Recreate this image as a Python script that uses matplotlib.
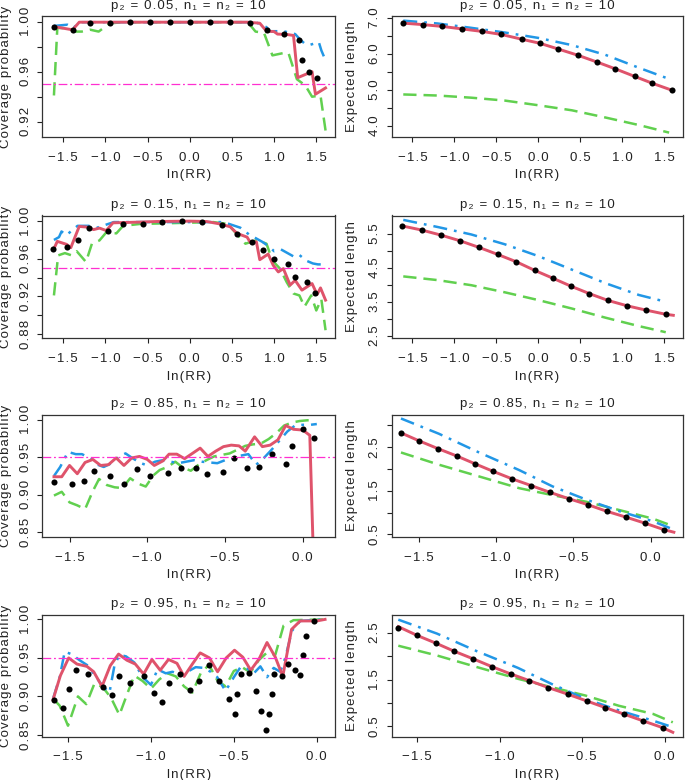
import matplotlib
matplotlib.use("Agg")
import matplotlib.pyplot as plt

plt.rcParams['font.family'] = ['Liberation Sans', 'DejaVu Sans']

RED = '#DF536B'
BLUE = '#2297E6'
GREEN = '#61D04F'
MAGENTA = '#FF2FD0'

# ---- p2 = 0.05 ----
cov_red_x1 = [-1.61, -1.39, -1.31, 0.68, 0.83, 0.91, 1.00, 1.04, 1.15, 1.23, 1.28, 1.45, 1.49, 1.61]
cov_red_y1 = [0.996, 0.9934, 0.9995, 0.9995, 0.9987, 0.9923, 0.992, 0.990, 0.9897, 0.9889, 0.9552, 0.960, 0.942, 0.947]
cov_blue_x1 = [-1.61, -1.45, -1.38, -1.30, 0.78, 0.91, 0.95, 1.11, 1.19, 1.25, 1.31, 1.37, 1.43, 1.53, 1.56, 1.61]
cov_blue_y1 = [0.9965, 0.9975, 0.995, 0.9995, 0.9995, 0.9955, 0.9923, 0.9923, 0.991, 0.990, 0.9855, 0.982, 0.9815, 0.9836, 0.977, 0.969]
cov_green_x1 = [-1.61, -1.57, -1.42, -1.36, -1.28, -1.18, -1.08, -0.95, -0.80, 0.62, 0.70, 0.78, 0.88, 0.98, 1.12, 1.17, 1.27, 1.37, 1.45, 1.55, 1.61]
cov_green_y1 = [0.941, 0.995, 0.9945, 0.992, 0.992, 0.9935, 0.992, 0.9985, 0.9995, 0.9995, 0.9985, 0.992, 0.991, 0.973, 0.975, 0.975, 0.954, 0.949, 0.940, 0.941, 0.913]
cov_pts_x1 = [-1.61, -1.38, -1.18, -0.945, -0.71, -0.47, -0.23, 0.0, 0.24, 0.48, 0.71, 0.91, 1.12, 1.30, 1.33, 1.41, 1.51]
cov_pts_y1 = [0.9955, 0.9934, 0.999, 0.9987, 0.9995, 0.9995, 0.9995, 0.9995, 0.9995, 0.9995, 0.9987, 0.9934, 0.9897, 0.985, 0.969, 0.960, 0.955]

len_pts_x1 = [-1.61, -1.38, -1.15, -0.91, -0.67, -0.44, -0.20, 0.02, 0.24, 0.47, 0.70, 0.92, 1.15, 1.36, 1.59]
len_pts_y1 = [6.86, 6.82, 6.77, 6.70, 6.63, 6.545, 6.415, 6.30, 6.14, 5.97, 5.78, 5.59, 5.38, 5.19, 5.00]
len_x1 = [-1.61, -1.2, -0.8, -0.4, 0.0, 0.4, 0.8, 1.2, 1.56]
len_blue_y1 = [6.93, 6.85, 6.73, 6.60, 6.45, 6.25, 5.98, 5.62, 5.31]
len_green_y1 = [4.88, 4.85, 4.79, 4.71, 4.58, 4.44, 4.24, 4.03, 3.82]

# ---- p2 = 0.15 ----
cov_red_x2 = [-1.61, -1.57, -1.46, -1.41, -1.31, -1.21, -1.14, -1.07, -0.99, -0.91, -0.59, -0.39, 0.0, 0.2, 0.36, 0.48, 0.56, 0.68, 0.72, 0.79, 0.83, 0.93, 0.99, 1.05, 1.11, 1.19, 1.25, 1.33, 1.45, 1.51, 1.55, 1.61]
cov_red_y2 = [0.9707, 0.9785, 0.9753, 0.9718, 0.9944, 0.9936, 0.991, 0.9926, 0.990, 0.9982, 0.999, 0.9996, 1.0, 0.9996, 0.997, 0.994, 0.987, 0.983, 0.977, 0.978, 0.959, 0.965, 0.953, 0.946, 0.9495, 0.932, 0.937, 0.9266, 0.9336, 0.922, 0.929, 0.916]
cov_blue_x2 = [-1.61, -1.55, -1.52, -1.46, -1.40, -1.33, -1.2, -1.1, -1.0, -0.9, 0.4, 0.5, 0.6, 0.7, 0.78, 0.86, 0.94, 1.0, 1.08, 1.16, 1.24, 1.3, 1.38, 1.46, 1.52, 1.61]
cov_blue_y2 = [0.980, 0.983, 0.989, 0.985, 0.990, 0.995, 0.995, 0.993, 0.996, 0.999, 0.999, 0.996, 0.993, 0.986, 0.982, 0.978, 0.973, 0.968, 0.970, 0.966, 0.962, 0.964, 0.958, 0.955, 0.954, 0.954]
cov_green_x2 = [-1.61, -1.56, -1.48, -1.40, -1.34, -1.23, -1.16, -1.07, -0.99, -0.87, -0.79, -0.59, 0.28, 0.45, 0.66, 0.8, 0.91, 0.98, 1.07, 1.15, 1.23, 1.30, 1.36, 1.44, 1.50, 1.56, 1.61]
cov_green_y2 = [0.921, 0.9636, 0.966, 0.9636, 0.968, 0.9566, 0.976, 0.9795, 0.988, 0.987, 0.995, 0.997, 0.999, 0.997, 0.976, 0.980, 0.976, 0.958, 0.9495, 0.935, 0.923, 0.921, 0.909, 0.921, 0.905, 0.917, 0.884]
cov_pts_x2 = [-1.62, -1.45, -1.33, -1.19, -0.97, -0.79, -0.56, -0.325, -0.09, 0.14, 0.38, 0.56, 0.74, 0.87, 1.0, 1.16, 1.25, 1.39, 1.49]
cov_pts_y2 = [0.9707, 0.973, 0.980, 0.9926, 0.990, 0.997, 0.997, 0.999, 1.0, 0.9996, 0.996, 0.9866, 0.9778, 0.9696, 0.960, 0.954, 0.9407, 0.9354, 0.9238]

len_pts_x2 = [-1.62, -1.39, -1.16, -0.93, -0.71, -0.485, -0.26, -0.045, 0.17, 0.39, 0.61, 0.83, 1.06, 1.29, 1.52]
len_pts_y2 = [5.74, 5.62, 5.47, 5.30, 5.11, 4.90, 4.68, 4.43, 4.20, 3.96, 3.74, 3.54, 3.38, 3.25, 3.13]
len_red_x2 = [-1.62, -1.39, -1.16, -0.93, -0.71, -0.485, -0.26, -0.045, 0.17, 0.39, 0.61, 0.83, 1.06, 1.29, 1.52, 1.61]
len_red_y2 = [5.74, 5.62, 5.47, 5.30, 5.11, 4.90, 4.68, 4.43, 4.20, 3.96, 3.74, 3.54, 3.38, 3.25, 3.13, 3.10]
len_x2 = [-1.61, -1.2, -0.8, -0.4, 0.0, 0.4, 0.8, 1.2, 1.52]
len_blue_y2 = [5.92, 5.71, 5.49, 5.20, 4.85, 4.45, 4.05, 3.70, 3.50]
len_green_y2 = [4.25, 4.14, 3.99, 3.78, 3.55, 3.30, 3.03, 2.78, 2.60]

# ---- p2 = 0.85 ----
cov_red_x3 = [-1.60, -1.55, -1.50, -1.45, -1.40, -1.35, -1.30, -1.25, -1.20, -1.15, -1.10, -1.05, -1.00, -0.955, -0.90, -0.86, -0.81, -0.76, -0.71, -0.66, -0.61, -0.56, -0.51, -0.46, -0.41, -0.37, -0.31, -0.26, -0.21, -0.16, -0.11, -0.06, 0.0, 0.045, 0.085]
cov_red_y3 = [0.924, 0.924, 0.939, 0.928, 0.943, 0.947, 0.939, 0.940, 0.949, 0.939, 0.949, 0.951, 0.947, 0.939, 0.945, 0.954, 0.954, 0.948, 0.955, 0.962, 0.951, 0.958, 0.964, 0.966, 0.965, 0.958, 0.977, 0.964, 0.966, 0.973, 0.992, 0.987, 0.986, 0.979, 0.70]
cov_blue_x3 = [-1.60, -1.56, -1.51, -1.46, -1.42, -1.37, -1.32, -1.28, -1.23, -1.18, -1.14, -1.09, -1.04, -1.00, -0.95, -0.90, -0.85, -0.80, -0.75, -0.70, -0.65, -0.60, -0.55, -0.50, -0.45, -0.40, -0.35, -0.30, -0.25, -0.20, -0.15, -0.10, -0.05, 0.0, 0.05, 0.09]
cov_blue_y3 = [0.925, 0.937, 0.957, 0.954, 0.954, 0.949, 0.940, 0.937, 0.942, 0.951, 0.955, 0.948, 0.942, 0.939, 0.944, 0.946, 0.944, 0.942, 0.944, 0.946, 0.944, 0.943, 0.942, 0.946, 0.948, 0.952, 0.954, 0.940, 0.949, 0.960, 0.972, 0.984, 0.992, 0.993, 0.993, 0.994]
cov_green_x3 = [-1.60, -1.55, -1.50, -1.45, -1.40, -1.35, -1.31, -1.26, -1.21, -1.16, -1.11, -1.06, -1.01, -0.96, -0.92, -0.87, -0.82, -0.77, -0.72, -0.67, -0.62, -0.57, -0.52, -0.47, -0.42, -0.37, -0.32, -0.27, -0.22, -0.17, -0.12, -0.07, -0.02, 0.03, 0.08]
cov_green_y3 = [0.899, 0.904, 0.890, 0.886, 0.881, 0.905, 0.921, 0.913, 0.910, 0.909, 0.922, 0.915, 0.911, 0.926, 0.933, 0.937, 0.944, 0.936, 0.932, 0.940, 0.946, 0.951, 0.953, 0.955, 0.960, 0.965, 0.967, 0.968, 0.974, 0.982, 0.992, 0.996, 0.998, 0.999, 0.999]
cov_pts_x3 = [-1.60, -1.485, -1.41, -1.344, -1.237, -1.147, -1.066, -0.983, -0.865, -0.784, -0.688, -0.613, -0.513, -0.442, -0.361, -0.282, -0.197, -0.111, -0.068, 0.0, 0.07]
cov_pts_y3 = [0.917, 0.915, 0.9186, 0.932, 0.925, 0.914, 0.9337, 0.925, 0.929, 0.935, 0.936, 0.927, 0.9306, 0.949, 0.936, 0.937, 0.954, 0.941, 0.965, 0.9875, 0.976]

len_pts_x3 = [-1.615, -1.5, -1.377, -1.255, -1.136, -1.017, -0.896, -0.773, -0.652, -0.53, -0.405, -0.284, -0.158, -0.035, 0.086]
len_pts_y3 = [2.83, 2.65, 2.47, 2.30, 2.12, 1.944, 1.774, 1.62, 1.465, 1.32, 1.18, 1.03, 0.894, 0.755, 0.608]
len_red_x3 = [-1.615, -1.5, -1.377, -1.255, -1.136, -1.017, -0.896, -0.773, -0.652, -0.53, -0.405, -0.284, -0.158, -0.035, 0.086, 0.15]
len_red_y3 = [2.83, 2.65, 2.47, 2.30, 2.12, 1.944, 1.774, 1.62, 1.465, 1.32, 1.18, 1.03, 0.894, 0.755, 0.608, 0.55]
len_x3 = [-1.615, -1.37, -1.11, -0.85, -0.634, -0.418, -0.2, 0.015, 0.145]
len_blue_y3 = [3.16, 2.81, 2.38, 1.975, 1.60, 1.30, 1.03, 0.80, 0.616]
len_green_y3 = [2.38, 2.10, 1.83, 1.56, 1.40, 1.25, 1.056, 0.86, 0.69]

# ---- p2 = 0.95 ----
cov_red_x4 = [-1.59, -1.546, -1.496, -1.446, -1.386, -1.345, -1.295, -1.245, -1.195, -1.145, -1.094, -1.044, -0.994, -0.944, -0.894, -0.843, -0.80, -0.747, -0.703, -0.647, -0.598, -0.546, -0.496, -0.446, -0.398, -0.347, -0.30, -0.25, -0.205, -0.152, -0.10, 0.0, 0.05]
cov_red_y4 = [0.896, 0.927, 0.950, 0.942, 0.939, 0.932, 0.913, 0.940, 0.955, 0.947, 0.942, 0.929, 0.948, 0.934, 0.948, 0.943, 0.926, 0.943, 0.9565, 0.950, 0.932, 0.950, 0.960, 0.951, 0.934, 0.949, 0.970, 0.951, 0.926, 0.987, 0.998, 0.998, 1.0]
cov_blue_x4 = [-1.59, -1.55, -1.52, -1.48, -1.43, -1.38, -1.33, -1.29, -1.25, -1.22, -1.19, -1.15, -1.10, -1.05, -1.00, -0.96, -0.91, -0.87, -0.82, -0.78, -0.73, -0.68, -0.64, -0.60, -0.55, -0.50, -0.46, -0.42, -0.38, -0.34, -0.30, -0.26, -0.22, -0.19, -0.15, -0.10, 0.05]
cov_blue_y4 = [0.897, 0.925, 0.958, 0.955, 0.947, 0.940, 0.925, 0.913, 0.905, 0.940, 0.954, 0.952, 0.944, 0.925, 0.915, 0.935, 0.930, 0.932, 0.928, 0.932, 0.938, 0.937, 0.932, 0.925, 0.907, 0.925, 0.938, 0.936, 0.930, 0.939, 0.925, 0.937, 0.932, 0.950, 0.985, 0.998, 1.0]
cov_green_x4 = [-1.59, -1.55, -1.50, -1.44, -1.39, -1.34, -1.29, -1.24, -1.19, -1.14, -1.10, -1.05, -1.00, -0.95, -0.90, -0.85, -0.80, -0.75, -0.70, -0.65, -0.60, -0.55, -0.50, -0.45, -0.40, -0.35, -0.30, -0.25, -0.20, -0.14, 0.05]
cov_green_y4 = [0.897, 0.888, 0.862, 0.900, 0.890, 0.917, 0.912, 0.898, 0.876, 0.905, 0.927, 0.920, 0.910, 0.922, 0.930, 0.926, 0.913, 0.905, 0.930, 0.941, 0.921, 0.913, 0.933, 0.938, 0.931, 0.947, 0.957, 0.954, 0.992, 0.999, 1.0]
cov_pts_x4 = [-1.586, -1.53, -1.496, -1.45, -1.38, -1.29, -1.233, -1.19, -1.124, -1.044, -0.984, -0.934, -0.894, -0.823, -0.763, -0.713, -0.649, -0.592, -0.532, -0.496, -0.478, -0.458, -0.406, -0.365, -0.335, -0.307, -0.285, -0.271, -0.257, -0.211, -0.171, -0.13, -0.10, -0.084, -0.064, -0.016]
cov_pts_y4 = [0.8957, 0.8848, 0.910, 0.934, 0.9287, 0.912, 0.902, 0.9265, 0.918, 0.9265, 0.9043, 0.8926, 0.9174, 0.9296, 0.9078, 0.9196, 0.9413, 0.9196, 0.897, 0.877, 0.9035, 0.9287, 0.931, 0.9065, 0.8817, 0.8565, 0.877, 0.9026, 0.9287, 0.927, 0.9417, 0.934, 0.9274, 0.9535, 0.9787, 0.998]

len_pts_x4 = [-1.615, -1.5, -1.387, -1.275, -1.162, -1.047, -0.934, -0.82, -0.705, -0.588, -0.473, -0.359, -0.244, -0.13, -0.012]
len_pts_y4 = [2.615, 2.45, 2.285, 2.11, 1.95, 1.78, 1.625, 1.48, 1.33, 1.19, 1.045, 0.90, 0.758, 0.615, 0.47]
len_red_x4 = [-1.615, -1.5, -1.387, -1.275, -1.162, -1.047, -0.934, -0.82, -0.705, -0.588, -0.473, -0.359, -0.244, -0.13, -0.012, 0.05]
len_red_y4 = [2.64, 2.45, 2.285, 2.11, 1.95, 1.78, 1.625, 1.48, 1.33, 1.19, 1.045, 0.90, 0.758, 0.615, 0.47, 0.37]
len_x4 = [-1.615, -1.38, -1.137, -0.89, -0.686, -0.48, -0.277, -0.07, 0.05]
len_blue_y4 = [2.79, 2.49, 2.11, 1.755, 1.41, 1.09, 0.84, 0.62, 0.48]
len_green_y4 = [2.23, 2.02, 1.77, 1.52, 1.34, 1.16, 0.94, 0.765, 0.585]

p2_values = ['0.05', '0.15', '0.85', '0.95']
xticks_wide = [-1.5, -1.0, -0.5, 0.0, 0.5, 1.0, 1.5]
xticks_short = [-1.5, -1.0, -0.5, 0.0]
cov_yticks = [[0.92, 0.94, 0.96, 0.98, 1.00], [0.88, 0.90, 0.92, 0.94, 0.96, 0.98, 1.00],
              [0.85, 0.90, 0.95, 1.00], [0.85, 0.90, 0.95, 1.00]]
cov_ylabels = [['0.92', '', '0.96', '', '1.00'], ['0.88', '', '0.92', '', '0.96', '', '1.00'],
               ['0.85', '0.90', '0.95', '1.00'], ['0.85', '0.90', '0.95', '1.00']]
len_yticks = [[4.0, 4.5, 5.0, 5.5, 6.0, 6.5, 7.0], [2.5, 3.0, 3.5, 4.0, 4.5, 5.0, 5.5],
              [0.5, 1.0, 1.5, 2.0, 2.5, 3.0], [0.5, 1.0, 1.5, 2.0, 2.5]]
len_ylabels = [['4.0', '', '5.0', '', '6.0', '', '7.0'], ['2.5', '', '3.5', '', '4.5', '', '5.5'],
               ['0.5', '', '1.5', '', '2.5', ''], ['0.5', '', '1.5', '', '2.5']]

FS = 9.5


def sp(s):
    # R output here has loose letter spacing
    return '\u200a'.join(s)


def fmt_x(v):
    s = '%.1f' % abs(v)
    return ('\u2212' + s) if v < 0 else s


fig = plt.figure(figsize=(6.85, 7.8), dpi=100)
W, H = 685.0, 780.0
rows_px = [(16.3, 137.3), (215.5, 338.3), (415, 537), (615, 736.5)]
xlims = [(-1.748, 1.722), (-1.748, 1.722), (-1.675, 0.207), (-1.655, 0.11)]
cov_ylims = [(0.9076, 1.0042), (0.8754, 1.006), (0.844, 1.006), (0.848, 1.0057)]
len_ylims = [(3.69, 7.05), (2.42, 6.05), (0.44, 3.24), (0.28, 2.89)]

cov_data = [
    (cov_green_x1, cov_green_y1, cov_blue_x1, cov_blue_y1, cov_red_x1, cov_red_y1, cov_pts_x1, cov_pts_y1),
    (cov_green_x2, cov_green_y2, cov_blue_x2, cov_blue_y2, cov_red_x2, cov_red_y2, cov_pts_x2, cov_pts_y2),
    (cov_green_x3, cov_green_y3, cov_blue_x3, cov_blue_y3, cov_red_x3, cov_red_y3, cov_pts_x3, cov_pts_y3),
    (cov_green_x4, cov_green_y4, cov_blue_x4, cov_blue_y4, cov_red_x4, cov_red_y4, cov_pts_x4, cov_pts_y4),
]
len_data = [
    (len_x1, len_green_y1, len_blue_y1, len_pts_x1, len_pts_y1, len_pts_x1, len_pts_y1),
    (len_x2, len_green_y2, len_blue_y2, len_red_x2, len_red_y2, len_pts_x2, len_pts_y2),
    (len_x3, len_green_y3, len_blue_y3, len_red_x3, len_red_y3, len_pts_x3, len_pts_y3),
    (len_x4, len_green_y4, len_blue_y4, len_red_x4, len_red_y4, len_pts_x4, len_pts_y4),
]


def style(ax, xl, yl, xt, yt, ytl, title, ylab, lab_x):
    ax.set_xlim(*xl)
    ax.set_ylim(*yl)
    ax.set_xticks(xt)
    ax.set_xticklabels([sp(fmt_x(v)) for v in xt])
    ax.set_yticks(yt)
    ax.set_yticklabels([sp(t) for t in ytl], rotation=90, va='center')
    ax.tick_params(direction='out', length=3.6, width=0.8, labelsize=FS, colors='#222222')
    ax.tick_params(axis='x', pad=7)
    ax.tick_params(axis='y', pad=4)
    for s in ax.spines.values():
        s.set_linewidth(0.9)
        s.set_color('#333333')
    ax.set_title(sp(title), fontsize=FS, pad=5.5, color='#222222')
    ax.set_xlabel(sp('ln(RR)'), fontsize=FS, color='#222222')
    ax.xaxis.set_label_coords(0.5, -0.265)
    ax.set_ylabel(sp(ylab), fontsize=FS, color='#222222')
    ax.yaxis.set_label_coords(lab_x, 0.5)


for i in range(4):
    top, bot = rows_px[i]
    b = 1 - bot / H
    h = (bot - top) / H
    title = 'p\u2082 = %s, n\u2081 = n\u2082 = 10' % p2_values[i]
    xt = xticks_wide if i < 2 else xticks_short

    # coverage probability
    ax = fig.add_axes([42.3 / W, b, 292.7 / W, h])
    gx, gy, bx, by, rx, ry, px, py = cov_data[i]
    ax.plot(gx, gy, color=GREEN, lw=1.8, dashes=(5.3, 2.8))
    ax.plot(bx, by, color=BLUE, lw=1.8, dashes=(5.6, 2.8, 1.1, 2.8))
    ax.plot(rx, ry, color=RED, lw=2.1, solid_joinstyle='round')
    ax.plot(px, py, 'o', color='black', ms=4.4, mew=0)
    ax.axhline(0.95, color=MAGENTA, lw=0.9, dashes=(7, 2.2, 1.5, 2.2))
    style(ax, xlims[i], cov_ylims[i], xt, cov_yticks[i], cov_ylabels[i], title,
          'Coverage probability', -0.105)

    # expected length
    ax = fig.add_axes([391.7 / W, b, 291 / W, h])
    lx, lg, lb, rx, ry, px, py = len_data[i]
    ax.plot(lx, lg, color=GREEN, lw=1.8, dashes=(5.3, 2.8))
    ax.plot(lx, lb, color=BLUE, lw=1.8, dashes=(5.6, 2.8, 1.1, 2.8))
    ax.plot(rx, ry, color=RED, lw=2.1, solid_joinstyle='round')
    ax.plot(px, py, 'o', color='black', ms=4.4, mew=0)
    style(ax, xlims[i], len_ylims[i], xt, len_yticks[i], len_ylabels[i], title,
          'Expected length', -0.115)

fig.savefig('out.png', dpi=100)
